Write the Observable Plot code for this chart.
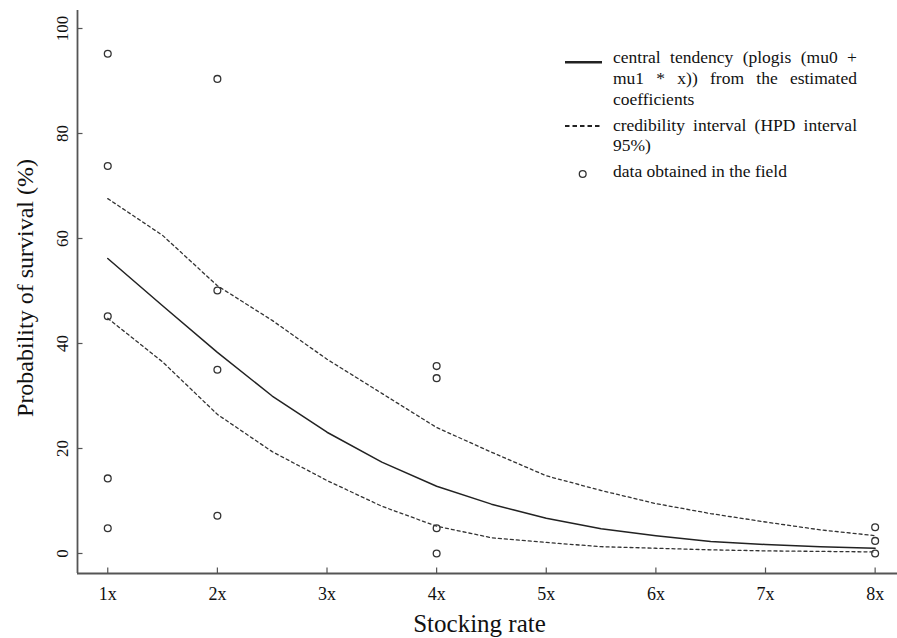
<!DOCTYPE html>
<html>
<head>
<meta charset="utf-8">
<script src="https://cdn.jsdelivr.net/npm/d3@7"></script>
<script src="https://cdn.jsdelivr.net/npm/@observablehq/plot@0.6"></script>
<style>
  html, body { margin: 0; padding: 0; background: #fff; overflow: hidden; }
  #chart svg { display: block; }
</style>
</head>
<body>
<div id="chart"></div>
<script>
// ---- data ----
const stockingRates = [1, 2, 3, 4, 5, 6, 7, 8];
const xTickLabels = ["1x", "2x", "3x", "4x", "5x", "6x", "7x", "8x"];
const yTicks = [0, 20, 40, 60, 80, 100];

const curveX   = [1, 1.5, 2, 2.5, 3, 3.5, 4, 4.5, 5, 5.5, 6, 6.5, 7, 7.5, 8];
const central  = [56.2, 47.2, 38.3, 30.0, 23.1, 17.4, 12.8, 9.4, 6.7, 4.7, 3.4, 2.3, 1.7, 1.3, 1.0];
const upperHPD = [67.6, 60.6, 51.0, 44.4, 37.0, 30.5, 24.0, 19.3, 14.8, 12.0, 9.5, 7.6, 6.0, 4.5, 3.4];
const lowerHPD = [44.8, 36.5, 26.5, 19.4, 13.9, 9.0, 5.2, 3.0, 2.1, 1.3, 1.0, 0.7, 0.5, 0.4, 0.3];

const obsX = [1, 1, 1, 1, 1, 2, 2, 2, 2, 4, 4, 4, 4, 8, 8, 8];
const obsY = [95.2, 73.8, 45.2, 14.3, 4.8, 90.4, 50.1, 35.0, 7.2, 35.7, 33.4, 4.8, 0, 5.0, 2.4, 0];

const legendLabels = [
  ["central tendency (plogis (mu0 +", "mu1 * x)) from the estimated", "coefficients"],
  ["credibility interval (HPD interval", "95%)"],
  ["data obtained in the field"]
];

const xLabel = "Stocking rate";
const yLabel = "Probability of survival (%)";

// ---- build tables ----
const centralData = curveX.map((x, i) => ({x, y: central[i]}));
const upperData = curveX.map((x, i) => ({x, y: upperHPD[i]}));
const lowerData = curveX.map((x, i) => ({x, y: lowerHPD[i]}));
const obsData = obsX.map((x, i) => ({x, y: obsY[i]}));
const xTicks = stockingRates.map((x, i) => ({x, label: xTickLabels[i]}));

const W = 897, H = 638, mL = 77, mR = 0, mT = 10, mB = 65;
const tickLen = 5.5;
const xDomain = [0.724, 8.204];
const yDomain = [-3.81, 103.43];
const axisColor = "#555";
const textColor = "#111";
const font = "'Liberation Serif', 'Times New Roman', serif";

const chart = Plot.plot({
  width: W,
  height: H,
  marginLeft: mL,
  marginRight: mR,
  marginTop: mT,
  marginBottom: mB,
  style: {fontFamily: font, background: "#fff", color: textColor},
  x: {domain: xDomain, axis: null},
  y: {domain: yDomain, axis: null},
  marks: [
    // axis lines (L-shaped box)
    Plot.ruleX([xDomain[0]], {stroke: axisColor, strokeWidth: 1.8}),
    Plot.ruleY([yDomain[0]], {stroke: axisColor, strokeWidth: 1.8}),
    // inward ticks
    Plot.tickX(stockingRates, {x: d => d, insetTop: (H - mT - mB) - tickLen, stroke: axisColor, strokeWidth: 1.2}),
    Plot.tickY(yTicks, {y: d => d, insetRight: (W - mL - mR) - tickLen, stroke: axisColor, strokeWidth: 1.2}),
    // tick labels
    Plot.text(xTicks, {x: "x", text: "label", frameAnchor: "bottom", textAnchor: "middle", lineAnchor: "middle", dy: 21, fontSize: 18, fill: textColor}),
    Plot.text(yTicks, {y: d => d, text: d => String(d), frameAnchor: "left", textAnchor: "middle", lineAnchor: "middle", dx: -15, rotate: -90, fontSize: 17, fill: textColor}),
    // axis titles
    Plot.text([xLabel], {text: d => d, frameAnchor: "bottom", textAnchor: "middle", lineAnchor: "middle", dx: -8, dy: 50, fontSize: 25, fill: textColor}),
    Plot.text([yLabel], {text: d => d, frameAnchor: "left", textAnchor: "middle", lineAnchor: "middle", dx: -52, dy: -4, rotate: -90, fontSize: 24, fill: textColor}),
    // curves
    Plot.line(upperData, {x: "x", y: "y", stroke: "#333", strokeWidth: 1.3, strokeDasharray: "3,3"}),
    Plot.line(lowerData, {x: "x", y: "y", stroke: "#333", strokeWidth: 1.3, strokeDasharray: "3,3"}),
    Plot.line(centralData, {x: "x", y: "y", stroke: "#222", strokeWidth: 1.5}),
    // observations
    Plot.dot(obsData, {x: "x", y: "y", r: 3.4, stroke: "#333", strokeWidth: 1.3, fill: "none"})
  ]
});

document.getElementById("chart").appendChild(chart);

// ---- legend (inside plot, top right) ----
const svg = d3.select(chart);
const lg = svg.append("g")
  .attr("font-family", font)
  .attr("font-size", 17.5)
  .attr("fill", textColor)
  .attr("text-anchor", "start");
const textX = 613, justifyRight = 857;
const baselines = [[63.3, 84, 104.5], [130.7, 151], [177.3]];
lg.append("line").attr("x1", 565).attr("x2", 602).attr("y1", 62.3).attr("y2", 62.3)
  .attr("stroke", "#222").attr("stroke-width", 2.6);
lg.append("line").attr("x1", 565).attr("x2", 602).attr("y1", 126).attr("y2", 126)
  .attr("stroke", "#222").attr("stroke-width", 2).attr("stroke-dasharray", "4.5,3");
lg.append("circle").attr("cx", 582.7).attr("cy", 174).attr("r", 3.4)
  .attr("fill", "none").attr("stroke", "#333").attr("stroke-width", 1.3);
const justified = new Set(["0-0", "0-1", "1-0"]);
legendLabels.forEach((lines, i) => {
  lines.forEach((line, j) => {
    const t = lg.append("text").attr("x", textX).attr("y", baselines[i][j])
      .attr("text-anchor", "start").text(line);
    if (justified.has(`${i}-${j}`)) {
      const len = t.node().getComputedTextLength();
      const spaces = (line.match(/ /g) || []).length;
      if (spaces > 0) t.attr("word-spacing", (justifyRight - textX - len) / spaces);
    }
  });
});
</script>
</body>
</html>
